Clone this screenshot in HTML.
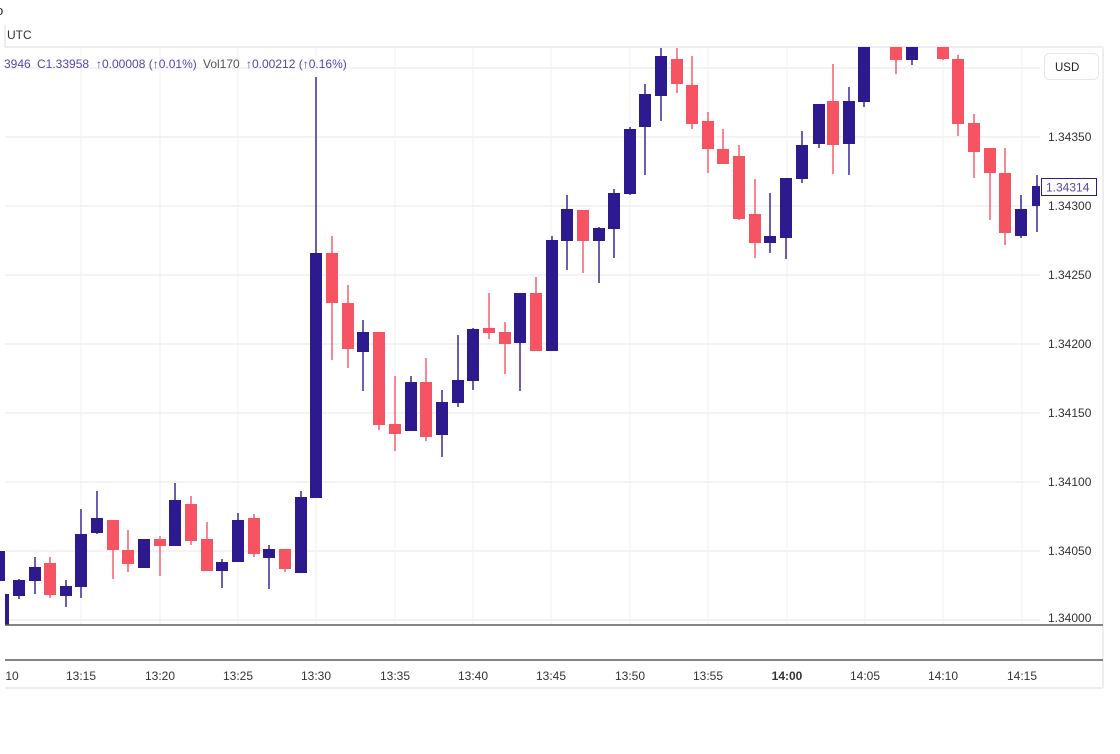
<!DOCTYPE html>
<html><head><meta charset="utf-8"><style>
html,body{margin:0;padding:0;background:#fff;width:1120px;height:754px;overflow:hidden}
svg{display:block;font-family:"Liberation Sans",sans-serif}
</style></head><body>
<svg width="1120" height="754" viewBox="0 0 1120 754" xmlns="http://www.w3.org/2000/svg">
<defs><clipPath id="c"><rect x="0" y="47" width="1040" height="578"/></clipPath></defs>
<!-- frame -->
<line x1="5" y1="47" x2="1103" y2="47" stroke="#eee" stroke-width="2"/>
<line x1="1103" y1="47" x2="1103" y2="688" stroke="#eee" stroke-width="2"/>
<line x1="5" y1="688" x2="1103" y2="688" stroke="#eee" stroke-width="2"/>
<line x1="5" y1="25" x2="5" y2="47" stroke="#ddd"/>
<!-- horizontal grid -->
<g stroke="#efefef" stroke-width="1.5">
<line x1="5" y1="68" x2="1040" y2="68"/><line x1="5" y1="137" x2="1040" y2="137"/><line x1="5" y1="206" x2="1040" y2="206"/><line x1="5" y1="275" x2="1040" y2="275"/><line x1="5" y1="344" x2="1040" y2="344"/><line x1="5" y1="413" x2="1040" y2="413"/><line x1="5" y1="482" x2="1040" y2="482"/><line x1="5" y1="551" x2="1040" y2="551"/><line x1="5" y1="620" x2="1040" y2="620"/>
</g>
<g stroke="#f0f0f0" stroke-width="1">
<line x1="81" y1="47" x2="81" y2="625"/><line x1="160" y1="47" x2="160" y2="625"/><line x1="238" y1="47" x2="238" y2="625"/><line x1="316" y1="47" x2="316" y2="625"/><line x1="395" y1="47" x2="395" y2="625"/><line x1="473" y1="47" x2="473" y2="625"/><line x1="551" y1="47" x2="551" y2="625"/><line x1="630" y1="47" x2="630" y2="625"/><line x1="708" y1="47" x2="708" y2="625"/><line x1="787" y1="47" x2="787" y2="625"/><line x1="865" y1="47" x2="865" y2="625"/><line x1="943" y1="47" x2="943" y2="625"/><line x1="1022" y1="47" x2="1022" y2="625"/>
</g>
<g clip-path="url(#c)">
<g fill="#2e1a8f" stroke="#2e1a8f" stroke-width="1.4">
<rect x="0" y="551" width="5" height="30" stroke="none"/><rect x="5" y="594" width="4" height="31" stroke="none"/>
<line x1="19" y1="579" x2="19" y2="599"/><rect x="13" y="580" width="12" height="16" stroke="none"/>
<line x1="35" y1="557" x2="35" y2="594"/><rect x="29" y="567" width="12" height="14" stroke="none"/>
<line x1="66" y1="580" x2="66" y2="607"/><rect x="60" y="586" width="12" height="10" stroke="none"/>
<line x1="81" y1="509" x2="81" y2="598"/><rect x="75" y="534" width="12" height="53" stroke="none"/>
<line x1="97" y1="491" x2="97" y2="534"/><rect x="91" y="518" width="12" height="15" stroke="none"/>
<rect x="138" y="539" width="12" height="29" stroke="none"/>
<line x1="175" y1="483" x2="175" y2="546"/><rect x="169" y="500" width="12" height="46" stroke="none"/>
<line x1="222" y1="559" x2="222" y2="588"/><rect x="216" y="562" width="12" height="9" stroke="none"/>
<line x1="238" y1="513" x2="238" y2="562"/><rect x="232" y="520" width="12" height="42" stroke="none"/>
<line x1="269" y1="545" x2="269" y2="589"/><rect x="263" y="549" width="12" height="9" stroke="none"/>
<line x1="301" y1="491" x2="301" y2="573"/><rect x="295" y="497" width="12" height="76" stroke="none"/>
<line x1="316" y1="77" x2="316" y2="498"/><rect x="310" y="253" width="12" height="245" stroke="none"/>
<line x1="363" y1="320" x2="363" y2="391"/><rect x="357" y="332" width="12" height="20" stroke="none"/>
<line x1="411" y1="376" x2="411" y2="431"/><rect x="405" y="382" width="12" height="49" stroke="none"/>
<line x1="442" y1="390" x2="442" y2="457"/><rect x="436" y="402" width="12" height="33" stroke="none"/>
<line x1="458" y1="335" x2="458" y2="407"/><rect x="452" y="380" width="12" height="23" stroke="none"/>
<line x1="473" y1="328" x2="473" y2="390"/><rect x="467" y="329" width="12" height="52" stroke="none"/>
<line x1="520" y1="293" x2="520" y2="391"/><rect x="514" y="293" width="12" height="50" stroke="none"/>
<line x1="552" y1="236" x2="552" y2="351"/><rect x="546" y="240" width="12" height="111" stroke="none"/>
<line x1="567" y1="195" x2="567" y2="270"/><rect x="561" y="209" width="12" height="32" stroke="none"/>
<line x1="599" y1="227" x2="599" y2="283"/><rect x="593" y="228" width="12" height="13" stroke="none"/>
<line x1="614" y1="189" x2="614" y2="258"/><rect x="608" y="193" width="12" height="36" stroke="none"/>
<line x1="630" y1="127" x2="630" y2="195"/><rect x="624" y="129" width="12" height="65" stroke="none"/>
<line x1="645" y1="84" x2="645" y2="175"/><rect x="639" y="94" width="12" height="33" stroke="none"/>
<line x1="661" y1="48" x2="661" y2="121"/><rect x="655" y="56" width="12" height="40" stroke="none"/>
<line x1="770" y1="193" x2="770" y2="253"/><rect x="764" y="236" width="12" height="7" stroke="none"/>
<line x1="786" y1="178" x2="786" y2="259"/><rect x="780" y="178" width="12" height="60" stroke="none"/>
<line x1="802" y1="131" x2="802" y2="183"/><rect x="796" y="145" width="12" height="34" stroke="none"/>
<line x1="819" y1="104" x2="819" y2="148"/><rect x="813" y="104" width="12" height="40" stroke="none"/>
<line x1="849" y1="87" x2="849" y2="175"/><rect x="843" y="101" width="12" height="43" stroke="none"/>
<line x1="864" y1="47" x2="864" y2="107"/><rect x="858" y="47" width="12" height="55" stroke="none"/>
<line x1="912" y1="47" x2="912" y2="65"/><rect x="906" y="47" width="12" height="13" stroke="none"/>
<line x1="1021" y1="195" x2="1021" y2="238"/><rect x="1015" y="209" width="12" height="27" stroke="none"/>
<line x1="1037" y1="175" x2="1037" y2="232"/><rect x="1032" y="186" width="12" height="20" stroke="none"/>
</g>
<g fill="#f65463" stroke="#f65463" stroke-width="1.4">
<line x1="50" y1="557" x2="50" y2="598"/><rect x="44" y="563" width="12" height="32" stroke="none"/>
<line x1="113" y1="520" x2="113" y2="579"/><rect x="107" y="520" width="12" height="30" stroke="none"/>
<line x1="128" y1="530" x2="128" y2="572"/><rect x="122" y="550" width="12" height="14" stroke="none"/>
<line x1="160" y1="536" x2="160" y2="576"/><rect x="154" y="539" width="12" height="7" stroke="none"/>
<line x1="191" y1="496" x2="191" y2="545"/><rect x="185" y="504" width="12" height="37" stroke="none"/>
<line x1="207" y1="522" x2="207" y2="571"/><rect x="201" y="539" width="12" height="32" stroke="none"/>
<line x1="254" y1="514" x2="254" y2="557"/><rect x="248" y="518" width="12" height="36" stroke="none"/>
<line x1="285" y1="549" x2="285" y2="572"/><rect x="279" y="549" width="12" height="20" stroke="none"/>
<line x1="332" y1="236" x2="332" y2="360"/><rect x="326" y="253" width="12" height="50" stroke="none"/>
<line x1="348" y1="285" x2="348" y2="368"/><rect x="342" y="303" width="12" height="46" stroke="none"/>
<line x1="379" y1="332" x2="379" y2="430"/><rect x="373" y="332" width="12" height="93" stroke="none"/>
<line x1="395" y1="376" x2="395" y2="451"/><rect x="389" y="424" width="12" height="10" stroke="none"/>
<line x1="426" y1="358" x2="426" y2="441"/><rect x="420" y="382" width="12" height="55" stroke="none"/>
<line x1="489" y1="293" x2="489" y2="339"/><rect x="483" y="328" width="12" height="5" stroke="none"/>
<line x1="505" y1="322" x2="505" y2="374"/><rect x="499" y="332" width="12" height="12" stroke="none"/>
<line x1="536" y1="277" x2="536" y2="351"/><rect x="530" y="293" width="12" height="58" stroke="none"/>
<line x1="583" y1="210" x2="583" y2="273"/><rect x="577" y="210" width="12" height="31" stroke="none"/>
<line x1="677" y1="48" x2="677" y2="93"/><rect x="671" y="59" width="12" height="25" stroke="none"/>
<line x1="692" y1="56" x2="692" y2="129"/><rect x="686" y="85" width="12" height="39" stroke="none"/>
<line x1="708" y1="112" x2="708" y2="173"/><rect x="702" y="121" width="12" height="28" stroke="none"/>
<line x1="723" y1="129" x2="723" y2="164"/><rect x="717" y="149" width="12" height="15" stroke="none"/>
<line x1="739" y1="145" x2="739" y2="220"/><rect x="733" y="156" width="12" height="63" stroke="none"/>
<line x1="755" y1="179" x2="755" y2="258"/><rect x="749" y="214" width="12" height="29" stroke="none"/>
<line x1="833" y1="64" x2="833" y2="174"/><rect x="827" y="101" width="12" height="44" stroke="none"/>
<line x1="896" y1="47" x2="896" y2="74"/><rect x="890" y="47" width="12" height="13" stroke="none"/>
<line x1="943" y1="47" x2="943" y2="60"/><rect x="937" y="47" width="12" height="12" stroke="none"/>
<line x1="958" y1="55" x2="958" y2="136"/><rect x="952" y="59" width="12" height="65" stroke="none"/>
<line x1="974" y1="114" x2="974" y2="178"/><rect x="968" y="123" width="12" height="29" stroke="none"/>
<line x1="990" y1="148" x2="990" y2="220"/><rect x="984" y="148" width="12" height="25" stroke="none"/>
<line x1="1005" y1="148" x2="1005" y2="245"/><rect x="999" y="173" width="12" height="60" stroke="none"/>
</g>
</g>
<!-- bottom separators -->
<line x1="5" y1="625" x2="1103" y2="625" stroke="#5a5a5a" stroke-width="1.5"/>
<line x1="5" y1="660" x2="1103" y2="660" stroke="#5a5a5a" stroke-width="1.5"/>
<!-- price axis -->
<g font-size="12" fill="#333">
<text x="1048" y="141">1.34350</text><text x="1048" y="210">1.34300</text><text x="1048" y="279">1.34250</text><text x="1048" y="348">1.34200</text><text x="1048" y="417">1.34150</text><text x="1048" y="486">1.34100</text><text x="1048" y="555">1.34050</text><text x="1048" y="622">1.34000</text>
</g>
<rect x="1044.5" y="53.5" width="54" height="26" rx="5" fill="#fff" stroke="#e6e6e6"/>
<text x="1055" y="71" font-size="11.5" fill="#222">USD</text>
<rect x="1041.5" y="178.5" width="55" height="17" fill="#fff" stroke="#2e1a8f"/>
<text x="1046" y="191.5" font-size="12" fill="#5546b0">1.34314</text>
<!-- time axis -->
<g font-size="12" fill="#333" text-anchor="middle">
<text x="12" y="680">10</text><text x="81" y="680">13:15</text><text x="160" y="680">13:20</text><text x="238" y="680">13:25</text><text x="316" y="680">13:30</text><text x="395" y="680">13:35</text><text x="473" y="680">13:40</text><text x="551" y="680">13:45</text><text x="630" y="680">13:50</text><text x="708" y="680">13:55</text><text x="787" y="680" font-weight="bold">14:00</text><text x="865" y="680">14:05</text><text x="943" y="680">14:10</text><text x="1022" y="680">14:15</text>
</g>
<!-- header -->
<text x="-4" y="15" font-size="13" fill="#222">o</text>
<text x="7" y="39" font-size="12" fill="#333">UTC</text>
<g font-size="12" fill="#5546b0">
<text x="4" y="68">3946</text><text x="37" y="68">C1.33958</text><text x="96" y="68">↑0.00008 (↑0.01%)</text>
<text x="203" y="68" fill="#555">Vol170</text><text x="246" y="68">↑0.00212 (↑0.16%)</text>
</g>
</svg>
</body></html>
